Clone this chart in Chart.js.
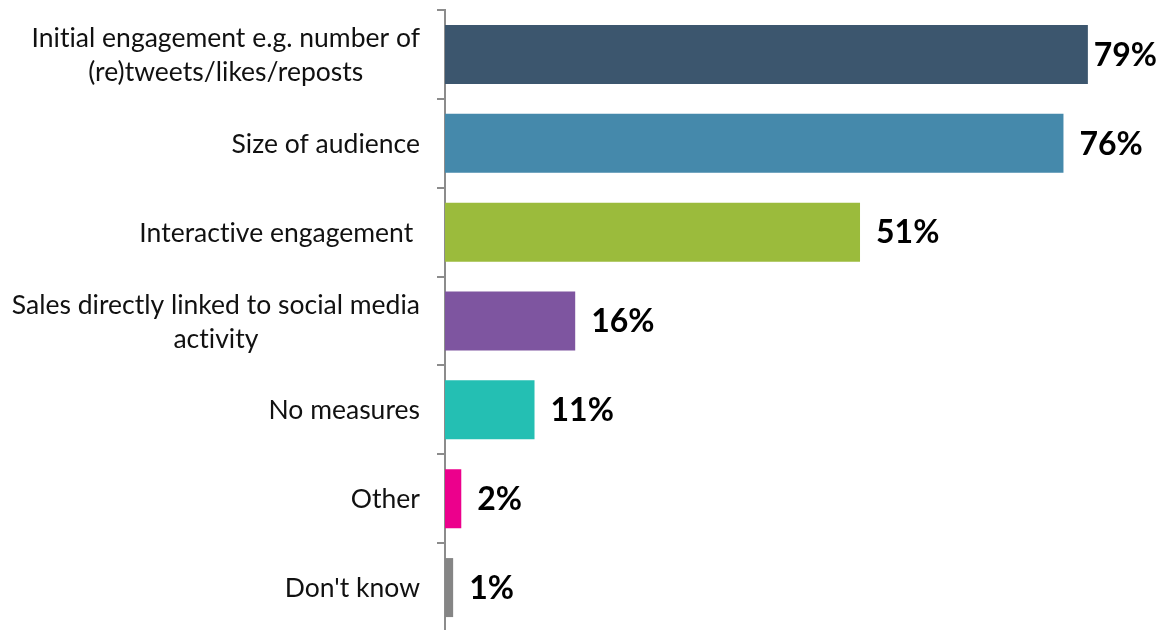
<!DOCTYPE html>
<html>
<head>
<meta charset="utf-8">
<script src="https://cdn.jsdelivr.net/npm/chart.js@4/dist/chart.umd.min.js"></script>
<style>
  html, body { margin: 0; padding: 0; background: #fff; overflow: hidden; }
  #wrap { width: 1166px; height: 632px; position: relative; }
</style>
</head>
<body>
<div id="wrap"><canvas id="measures-graph"></canvas></div>
<script>
// --< Data >--
const categories = [
  ["Initial engagement e.g. number of", "(re)tweets/likes/reposts"],
  ["Size of audience"],
  ["Interactive engagement "],
  ["Sales directly linked to social media", "activity"],
  ["No measures"],
  ["Other"],
  ["Don't know"]
];
const shares = [79, 76, 51, 16, 11, 2, 1];
const barColors = ["#3c566e", "#4589ab", "#9bbb3c", "#7e55a0", "#24bfb3", "#ec008c", "#858585"];
const axisMax = 88.6;
// --</ Data >--

const labelFont = "26.5px Lato";
const valueFont = "bold 32px Lato";

// category labels: block right-aligned to the axis, lines centred inside the block
const categoryLabels = {
  id: "categoryLabels",
  afterDraw(chart) {
    const ctx = chart.ctx;
    const y = chart.scales.y;
    const right = y.right - 25;
    const lineHeight = 34;
    ctx.save();
    ctx.font = labelFont;
    ctx.letterSpacing = "0.01px"; // keeps "ti" from turning into a ligature
    ctx.fillStyle = "#111";
    ctx.textBaseline = "middle";
    ctx.textAlign = "center";
    categories.forEach((lines, i) => {
      const cy = y.getPixelForTick(i) + 1;
      const widest = Math.max(...lines.map(l => ctx.measureText(l).width));
      const cx = right - widest / 2;
      lines.forEach((l, j) => {
        ctx.fillText(l, cx, cy + (j - (lines.length - 1) / 2) * lineHeight);
      });
    });
    ctx.restore();
  }
};

// value labels after each bar end, pulled back if they would run off the canvas
const valueLabels = {
  id: "valueLabels",
  afterDatasetsDraw(chart) {
    const ctx = chart.ctx;
    const meta = chart.getDatasetMeta(0);
    ctx.save();
    ctx.font = valueFont;
    ctx.fillStyle = "#000";
    ctx.textBaseline = "middle";
    ctx.textAlign = "left";
    meta.data.forEach((bar, i) => {
      const txt = shares[i] + "%";
      const w = ctx.measureText(txt).width;
      const x = Math.min(bar.x + 16, chart.width - 9 - w);
      ctx.fillText(txt, x, bar.y + 1);
    });
    ctx.restore();
  }
};

const ctx = document.getElementById("measures-graph").getContext("2d");
new Chart(ctx, {
  type: "bar",
  data: {
    labels: categories,
    datasets: [{
      data: shares,
      backgroundColor: barColors,
      borderWidth: 0,
      categoryPercentage: 1,
      barPercentage: 0.664
    }]
  },
  options: {
    indexAxis: "y",
    responsive: true,
    maintainAspectRatio: false,
    animation: false,
    layout: { padding: { top: 10, right: 0, bottom: 0, left: 0 } },
    plugins: {
      legend: { display: false },
      tooltip: { enabled: false }
    },
    scales: {
      x: {
        display: false,
        min: 0,
        max: axisMax
      },
      y: {
        afterFit: s => { s.width = 445; },
        ticks: { display: false },
        grid: {
          offset: true,
          drawOnChartArea: false,
          drawTicks: true,
          tickLength: 8,
          color: "#8c8c8c",
          lineWidth: 2
        },
        border: { color: "#8c8c8c", width: 2 }
      }
    }
  },
  plugins: [categoryLabels, valueLabels]
});
</script>
</body>
</html>
